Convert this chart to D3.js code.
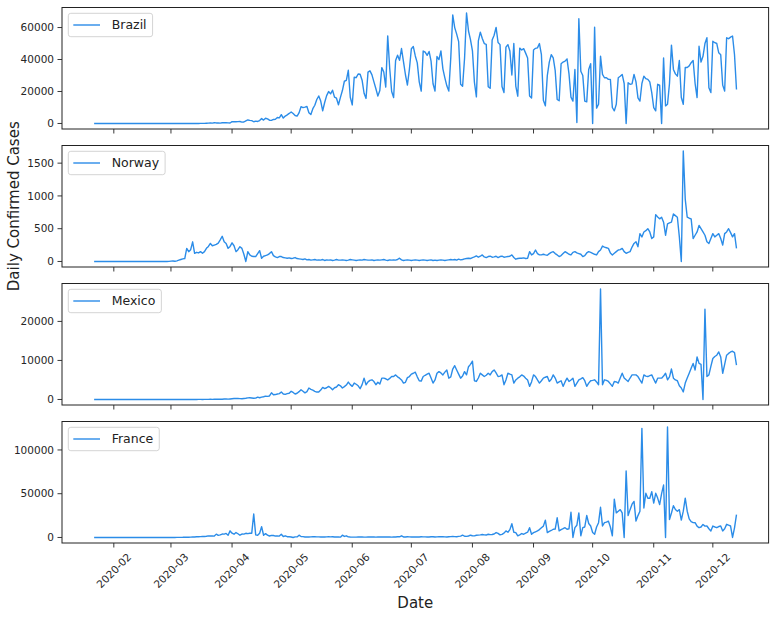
<!DOCTYPE html>
<html>
<head>
<meta charset="utf-8">
<script src="https://cdn.jsdelivr.net/npm/d3@7"></script>
<style>
  body { margin: 0; background: #fff; }
  text { font-family: "DejaVu Sans", sans-serif; }
</style>
</head>
<body>
<svg id="chart" width="776" height="619"></svg>
<script>
'use strict';

// daily confirmed cases, one value per day from 2020-01-22 to 2020-12-13
var startDate = '2020-01-22';
var countries = ['Brazil', 'Norway', 'Mexico', 'France'];

var brazil = [
  0,0,0,0,0,0,0, 0,0,0,0,0,0,0, 0,0,0,0,0,0,0, 0,0,0,0,0,0,0, 0,0,0,0,0,0,0,
  1,0,0,1,0,0,0,
  1,0,1,4,5,6,6,
  9,18,25,21,23,79,34,
  57,137,193,283,224,418,345,
  310,232,482,502,487,352,323,
  1138,1119,1074,1146,1222,852,926,
  1661,2210,1930,1781,1089,1442,1261,
  1832,3058,2105,3257,2917,2055,1927,
  2498,2678,3735,3503,5514,3379,4613,
  5385,6276,7218,6209,4970,4588,6633,
  10503,9888,10222,10611,6760,5632,9258,
  11385,15000,17200,14000,7938,13140,17408,
  19951,18508,20803,16508,15813,11687,16324,
  20599,26417,26928,33274,16409,11598,28936,
  28633,30925,30830,27075,18912,15654,32091,
  32913,30412,25982,21704,17110,20647,34918,
  32188,22765,54771,34666,20000,16200,39436,
  42725,39483,46860,38693,30476,24052,33846,
  46712,48105,42223,37923,26051,20229,45305,
  44571,42619,45048,39023,24831,20286,41857,
  39924,45403,34177,28532,23529,20257,41008,
  67860,59961,55891,51147,24578,23284,40816,
  69074,57837,52383,45392,25800,16641,51603,
  57152,53139,49970,49502,23010,22048,52160,
  55155,60091,50644,49298,23101,19373,47784,
  49298,45323,30355,50032,23421,17078,47134,
  45961,46808,44000,41000,17200,16000,46000,
  47000,47300,50000,43000,14500,11000,30000,
  38400,43000,41000,33000,15000,14200,37400,
  38400,39000,40400,31000,16500,14000,33800,
  600,65500,32700,30000,14000,13500,33800,
  37400,0,60200,9600,12000,42100,30700,
  28600,28600,27600,27600,10000,7900,12000,
  28600,29500,30700,25000,0,25500,24500,
  24800,30700,26000,16000,14000,25000,29600,
  28000,27600,26000,19300,9900,7900,24500,
  24000,0,41000,11000,12000,25000,49000,
  33800,31000,29600,39400,16200,12000,35000,
  35000,36000,38000,39400,25000,16200,48300,
  38400,42000,50000,53600,22400,19300,51400,
  50500,50000,44200,43000,24000,20300,53600,
  53000,54000,54700,43000,21200
];

var norway = [
  0,0,0,0,0,0,0, 0,0,0,0,0,0,0, 0,0,0,0,0,0,0, 0,0,0,0,0,0,0, 0,0,0,0,0,0,0,
  1,0,0,1,5,7,3,
  10,20,30,40,45,200,150,
  180,300,125,140,130,150,125,
  150,200,230,275,240,250,260,
  280,330,385,300,275,200,230,
  285,240,150,180,225,200,110,
  0,150,100,80,75,75,120,
  165,50,80,90,100,120,150,
  90,70,60,75,75,60,55,
  50,55,45,50,60,45,40,
  35,30,40,25,30,20,25,
  30,20,25,20,30,15,25,
  20,25,15,20,30,20,20,
  25,20,15,20,30,25,20,
  15,20,25,20,30,25,20,
  20,25,15,20,25,20,25,
  30,20,15,25,20,25,20,
  30,50,25,15,20,25,20,
  15,20,25,20,15,20,25,
  20,15,20,25,15,20,15,
  20,25,20,15,20,25,30,
  25,30,20,35,25,30,40,
  45,50,45,60,70,85,65,
  80,100,70,60,75,80,65,
  70,80,60,75,80,65,70,
  75,80,100,60,35,45,50,
  50,55,45,50,150,100,120,
  175,120,100,100,110,100,95,
  120,140,150,120,100,75,90,
  120,150,130,110,100,140,150,
  130,120,110,75,90,130,150,
  140,125,110,100,150,175,235,
  220,210,200,130,100,125,150,
  175,180,200,150,125,140,150,
  220,275,300,225,425,375,450,
  470,500,450,350,375,715,680,
  650,675,600,400,575,590,600,
  725,700,675,375,0,1685,950,
  675,660,650,350,400,450,550,
  500,450,400,300,275,350,425,
  375,400,425,350,250,425,450,
  500,440,375,425,200
];

var mexico = [
  0,0,0,0,0,0,0, 0,0,0,0,0,0,0, 0,0,0,0,0,0,0, 0,0,0,0,0,0,0, 0,0,0,0,0,0,0,
  0,0,0,0,0,0,0,
  0,0,2,1,0,0,1,
  1,4,0,3,14,15,12,
  29,29,25,46,38,48,51,
  52,65,70,110,130,85,140,
  200,250,240,280,230,180,250,
  300,400,450,380,310,350,600,
  450,600,700,840,800,900,1700,
  1200,1260,1400,1500,1900,1400,1300,
  1500,1600,2100,1800,1400,1600,2000,
  2500,2100,1700,2000,2940,2600,2400,
  2100,1900,1900,2400,3100,2800,3000,
  3360,3000,2500,3000,3200,3780,3500,
  2940,3300,3700,4450,3800,3360,4200,
  3900,3500,2770,3800,5460,3780,4500,
  4900,5040,4600,3780,4400,3950,5460,
  5460,5300,5000,5400,5880,5900,6300,
  5800,5460,5000,4200,4400,5600,5880,
  6500,6720,7000,5800,4800,4700,5880,
  6200,6500,6720,5500,4200,5000,6720,
  7140,6800,6300,7000,7560,5460,5800,
  7800,8650,7560,6500,5460,6000,7140,
  6300,8400,9000,9830,4800,4620,5500,
  6720,6300,5880,6200,6720,6300,7140,
  7560,6800,5880,6000,6300,3780,5000,
  6720,6500,6300,4200,5000,5460,5800,
  6300,6000,5460,5000,3360,4500,6300,
  5880,5000,4200,4800,5460,5700,5880,
  4620,5200,6300,5500,4200,4500,4800,
  3360,4500,5460,4620,5000,5460,3360,
  4200,5040,5300,5600,4800,3360,4200,
  4800,4900,5040,4500,3780,28300,3780,
  5040,4900,4620,4000,3360,4620,4500,
  4200,5500,6720,5500,5040,4620,5500,
  6300,6300,6300,5880,5000,4200,6300,
  6000,5880,6100,6300,5200,4200,5460,
  5460,5460,6000,6720,5040,5800,7800,
  5460,5000,4800,3500,2940,1930,4200,
  5500,6720,8000,9240,7560,10900,9240,
  9000,0,23100,5880,6300,8500,10500,
  11000,11340,12180,10900,6720,9000,11340,
  11800,12180,12350,12000,8820
];

var france = [
  0,0,0,2,1,0,0, 0,0,0,0,0,0,0, 0,0,0,0,0,0,0, 0,0,0,0,0,0,0, 0,0,0,0,0,0,0,
  0,0,4,20,19,43,30,
  61,73,138,190,336,177,286,
  372,497,595,785,838,924,1210,
  1097,1404,1861,1617,1847,1559,3838,
  2446,2931,3922,3809,4611,2599,7578,
  4861,3700,5600,4267,2600,3912,3777,
  4785,4342,4785,4900,26849,2937,2588,
  4900,12357,2580,4357,2640,1674,2436,
  2256,1628,1774,1593,3700,1095,1900,
  881,786,600,0,702,652,2600,
  1111,1007,582,660,570,690,800,
  750,720,680,580,550,620,700,
  750,710,900,560,630,590,400,
  2600,1200,1900,700,500,380,450,
  400,550,500,620,450,380,520,
  560,600,500,420,480,550,700,
  600,500,650,550,450,700,600,
  750,800,1900,600,500,800,700,
  550,600,700,500,600,750,650,
  700,600,550,800,900,600,700,
  800,900,1000,700,600,900,1000,
  1100,1000,900,1200,1500,2600,1400,
  1300,1700,2600,2000,1800,2500,2700,
  3000,3400,3000,2800,3700,3300,3400,
  4000,5600,4700,3000,3500,5000,7500,
  6000,9000,15700,6000,5600,1900,3000,
  4500,3700,5000,6000,11200,3700,5500,
  6500,7500,9000,11200,13000,19800,5600,
  7000,8000,9400,9500,22500,7500,9000,
  10000,11200,9400,10000,28800,0,11200,
  14000,28100,1900,11200,12000,25100,16000,
  13100,5600,3700,12000,16900,34500,13100,
  16900,17500,18700,12000,1900,43800,28100,
  30000,31800,28100,0,76000,25000,31800,
  38000,41200,18700,25000,30000,124700,33700,
  50500,44900,44900,52400,39300,50500,45000,
  37500,50000,59900,0,126200,20600,28000,
  36300,32000,30000,31800,19800,30000,44900,
  30000,21300,18000,17000,16900,13000,11200,
  12000,14900,13000,13100,10000,7500,13100,
  12000,11200,12500,13100,7500,10000,15000,
  14000,13100,0,11000,26200
];

var seriesValues = [brazil, norway, mexico, france];
var yTickValues = [
  [0, 20000, 40000, 60000],
  [0, 500, 1000, 1500],
  [0, 10000, 20000],
  [0, 50000, 100000]
];
var xTickLabels = ['2020-02', '2020-03', '2020-04', '2020-05', '2020-06', '2020-07',
  '2020-08', '2020-09', '2020-10', '2020-11', '2020-12'];

var lineColor = '#2b8ce8';
var axisColor = '#222';
var left = 62, right = 768.6;
var panelTop = 7.5, panelHeight = 121.5, panelStep = 138;
var tickLen = 4.5;

var svg = d3.select('#chart');
var parseDay = d3.utcParse('%Y-%m-%d');
var parseMonth = d3.utcParse('%Y-%m');
var day0 = parseDay(startDate);
var nDays = brazil.length;
var dayN = d3.utcDay.offset(day0, nDays - 1);

// matplotlib style 5% margins on the date axis
var spanMs = dayN - day0;
var x = d3.scaleUtc()
  .domain([new Date(+day0 - spanMs * 0.05), new Date(+dayN + spanMs * 0.05)])
  .range([left, right]);

var fmt = d3.format('d');

seriesValues.forEach(function (values, k) {
  var top = panelTop + k * panelStep;
  var bottom = top + panelHeight;
  var lo = d3.min(values), hi = d3.max(values), pad = (hi - lo) * 0.05;
  var y = d3.scaleLinear().domain([lo - pad, hi + pad]).range([bottom, top]);

  var g = svg.append('g').attr('class', 'panel');

  var line = d3.line()
    .x(function (d, i) { return x(d3.utcDay.offset(day0, i)); })
    .y(function (d) { return y(d); });

  g.append('path')
    .datum(values)
    .attr('d', line)
    .attr('fill', 'none')
    .attr('stroke', lineColor)
    .attr('stroke-width', 1.4)
    .attr('stroke-linejoin', 'round');

  // frame
  g.append('rect')
    .attr('x', left).attr('y', top)
    .attr('width', right - left).attr('height', panelHeight)
    .attr('fill', 'none').attr('stroke', axisColor).attr('stroke-width', 1);

  // y ticks
  var yt = g.selectAll('.ytick').data(yTickValues[k]).enter().append('g').attr('class', 'ytick');
  yt.append('line')
    .attr('x1', left - tickLen).attr('x2', left)
    .attr('y1', function (d) { return y(d); }).attr('y2', function (d) { return y(d); })
    .attr('stroke', axisColor).attr('stroke-width', 0.9);
  yt.append('text')
    .attr('x', left - tickLen - 3.5)
    .attr('y', function (d) { return y(d); })
    .attr('dy', '0.36em')
    .attr('text-anchor', 'end')
    .attr('font-size', '10.5px')
    .attr('fill', '#262626')
    .text(function (d) { return fmt(d); });

  // x ticks on every panel, labels only under the last one
  g.selectAll('.xtick').data(xTickLabels).enter().append('line')
    .attr('x1', function (d) { return x(parseMonth(d)); })
    .attr('x2', function (d) { return x(parseMonth(d)); })
    .attr('y1', bottom).attr('y2', bottom + tickLen)
    .attr('stroke', axisColor).attr('stroke-width', 0.9);

  // legend
  var lg = g.append('g').attr('transform', 'translate(' + (left + 6.3) + ',' + (top + 5.8) + ')');
  var box = lg.append('rect')
    .attr('height', 23.4).attr('rx', 2.5)
    .attr('fill', '#fff').attr('fill-opacity', 0.8)
    .attr('stroke', '#cfcfcf').attr('stroke-width', 0.9);
  lg.append('line')
    .attr('x1', 5).attr('x2', 31.7).attr('y1', 11.7).attr('y2', 11.7)
    .attr('stroke', lineColor).attr('stroke-width', 1.4);
  var lt = lg.append('text')
    .attr('x', 43.4).attr('y', 11.7).attr('dy', '0.36em')
    .attr('font-size', '12.5px').attr('fill', '#222')
    .text(countries[k]);
  box.attr('width', 43.4 + lt.node().getComputedTextLength() + 6);
});

// rotated date labels under the bottom panel
var lastBottom = panelTop + 3 * panelStep + panelHeight;
svg.selectAll('.xlabel').data(xTickLabels).enter().append('text')
  .attr('transform', function (d) {
    return 'translate(' + x(parseMonth(d)) + ',' + (lastBottom + tickLen + 23) + ') rotate(-45)';
  })
  .attr('text-anchor', 'middle')
  .attr('dy', '0.36em')
  .attr('font-size', '10.5px')
  .attr('fill', '#262626')
  .text(function (d) { return d; });

svg.append('text')
  .attr('x', (left + right) / 2).attr('y', 603).attr('dy', '0.36em')
  .attr('text-anchor', 'middle').attr('font-size', '15px').attr('fill', '#222')
  .text('Date');

svg.append('text')
  .attr('transform', 'translate(14,' + (panelTop + panelStep + panelHeight / 2) + ') rotate(-90)')
  .attr('text-anchor', 'middle').attr('dy', '0.36em')
  .attr('font-size', '15px').attr('fill', '#222')
  .text('Daily Confirmed Cases');
</script>
</body>
</html>
